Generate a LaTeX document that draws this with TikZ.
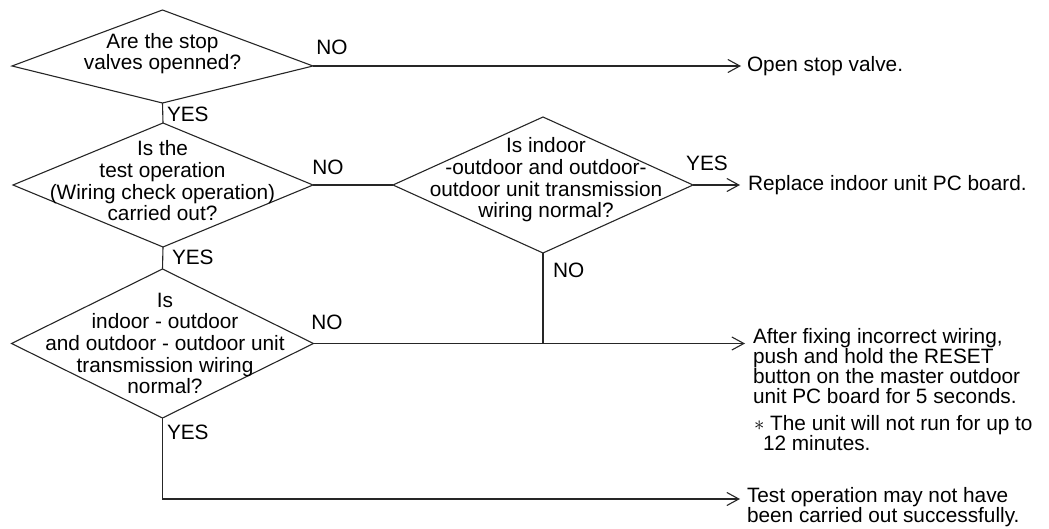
\documentclass[tikz,border=0pt]{standalone}
\usepackage{fontspec}
\setmainfont{Liberation Sans}
\usetikzlibrary{shapes.geometric,arrows.meta}
\begin{document}
\begin{tikzpicture}[x=1pt,y=-1pt,
  every node/.style={inner sep=0pt, outer sep=0pt, font=\fontsize{20.8}{21.7}\selectfont},
  dia/.style={draw=black!85, line width=1.1pt, shape=diamond, inner sep=0pt, outer sep=0pt},
  dtext/.style={align=center},
  rtext/.style={align=left, anchor=west, font=\fontsize{20.8}{19.8}\selectfont},
  lab/.style={anchor=west},
  conn/.style={draw=black!85, line width=1.1pt},
  arr/.style={conn, -{Straight Barb[length=12pt,width=13pt,line width=1.1pt]}},
]
\useasboundingbox (0,0) rectangle (1049,529);

% diamond 1 (its side corners sit below its middle)
\coordinate (d1n) at (162.5,10);
\coordinate (d1e) at (313,66);
\coordinate (d1s) at (162.5,103);
\coordinate (d1w) at (12,66);
\draw[conn, line join=miter] (d1n) -- (d1e) -- (d1s) -- (d1w) -- cycle;
\node[dtext] (t1) at (162.5,53.5) {Are the stop\\valves openned?};

\node[dia, minimum width=300pt, minimum height=124pt] (d2) at (163,185) {};
\node[dtext] (t2) at (162.5,181) {Is the\\test operation\\(Wiring check operation)\\carried out?};

\node[dia, minimum width=300pt, minimum height=136pt] (d3) at (543,185) {};
\node[dtext] (t3) at (546,180) {Is indoor\\-outdoor and outdoor-\\outdoor unit transmission\\wiring normal?};

\node[dia, minimum width=302pt, minimum height=149pt] (d4) at (162.5,343.5) {};
\node[dtext] (t4) at (165,343.5) {Is\\indoor - outdoor\\and outdoor - outdoor unit\\transmission wiring\\normal?};

% results
\coordinate (e1) at (741,66);
\node[anchor=west] (r1) at (747,66) {Open stop valve.};
\coordinate (e2) at (740,185);
\node[anchor=west] (r2) at (748,185) {Replace indoor unit PC board.};
\coordinate (j) at (543,343.5);
\coordinate (e3) at (745,343.5);
\node[rtext] (r3) at (753,366) {After fixing incorrect wiring,\\push and hold the RESET\\button on the master outdoor\\unit PC board for 5 seconds.};
\node[rtext] (r4) at (754,433) {$\ast$ The unit will not run for up to\\\hspace{9pt}12 minutes.};
\coordinate (c4) at (162.5,499);
\coordinate (e4) at (740,499);
\node[rtext] (r5) at (747,507) {Test operation may not have\\been carried out successfully.};

% connectors
\draw[arr] (d1e) -- (e1);
\draw[conn] (d1s) -- (d2.north);
\draw[conn] (d2.east) -- (d3.west);
\draw[arr] (d3.east) -- (e2);
\draw[conn] (d3.south) -- (j);
\draw[arr] (d4.east) -- (e3);
\draw[conn] (d2.south) -- (d4.north);
\draw[arr] (d4.south) -- (c4) -- (e4);

% labels
\node (n1) at (332,47) {NO};
\node[lab] (y1) at (167,114) {YES};
\node (n2) at (328,167) {NO};
\node[lab] (y2) at (172,257) {YES};
\node (y3) at (707,163) {YES};
\node[lab] (n3) at (553,270) {NO};
\node (n4) at (327,322) {NO};
\node[lab] (y4) at (167,432) {YES};
\end{tikzpicture}
\end{document}
